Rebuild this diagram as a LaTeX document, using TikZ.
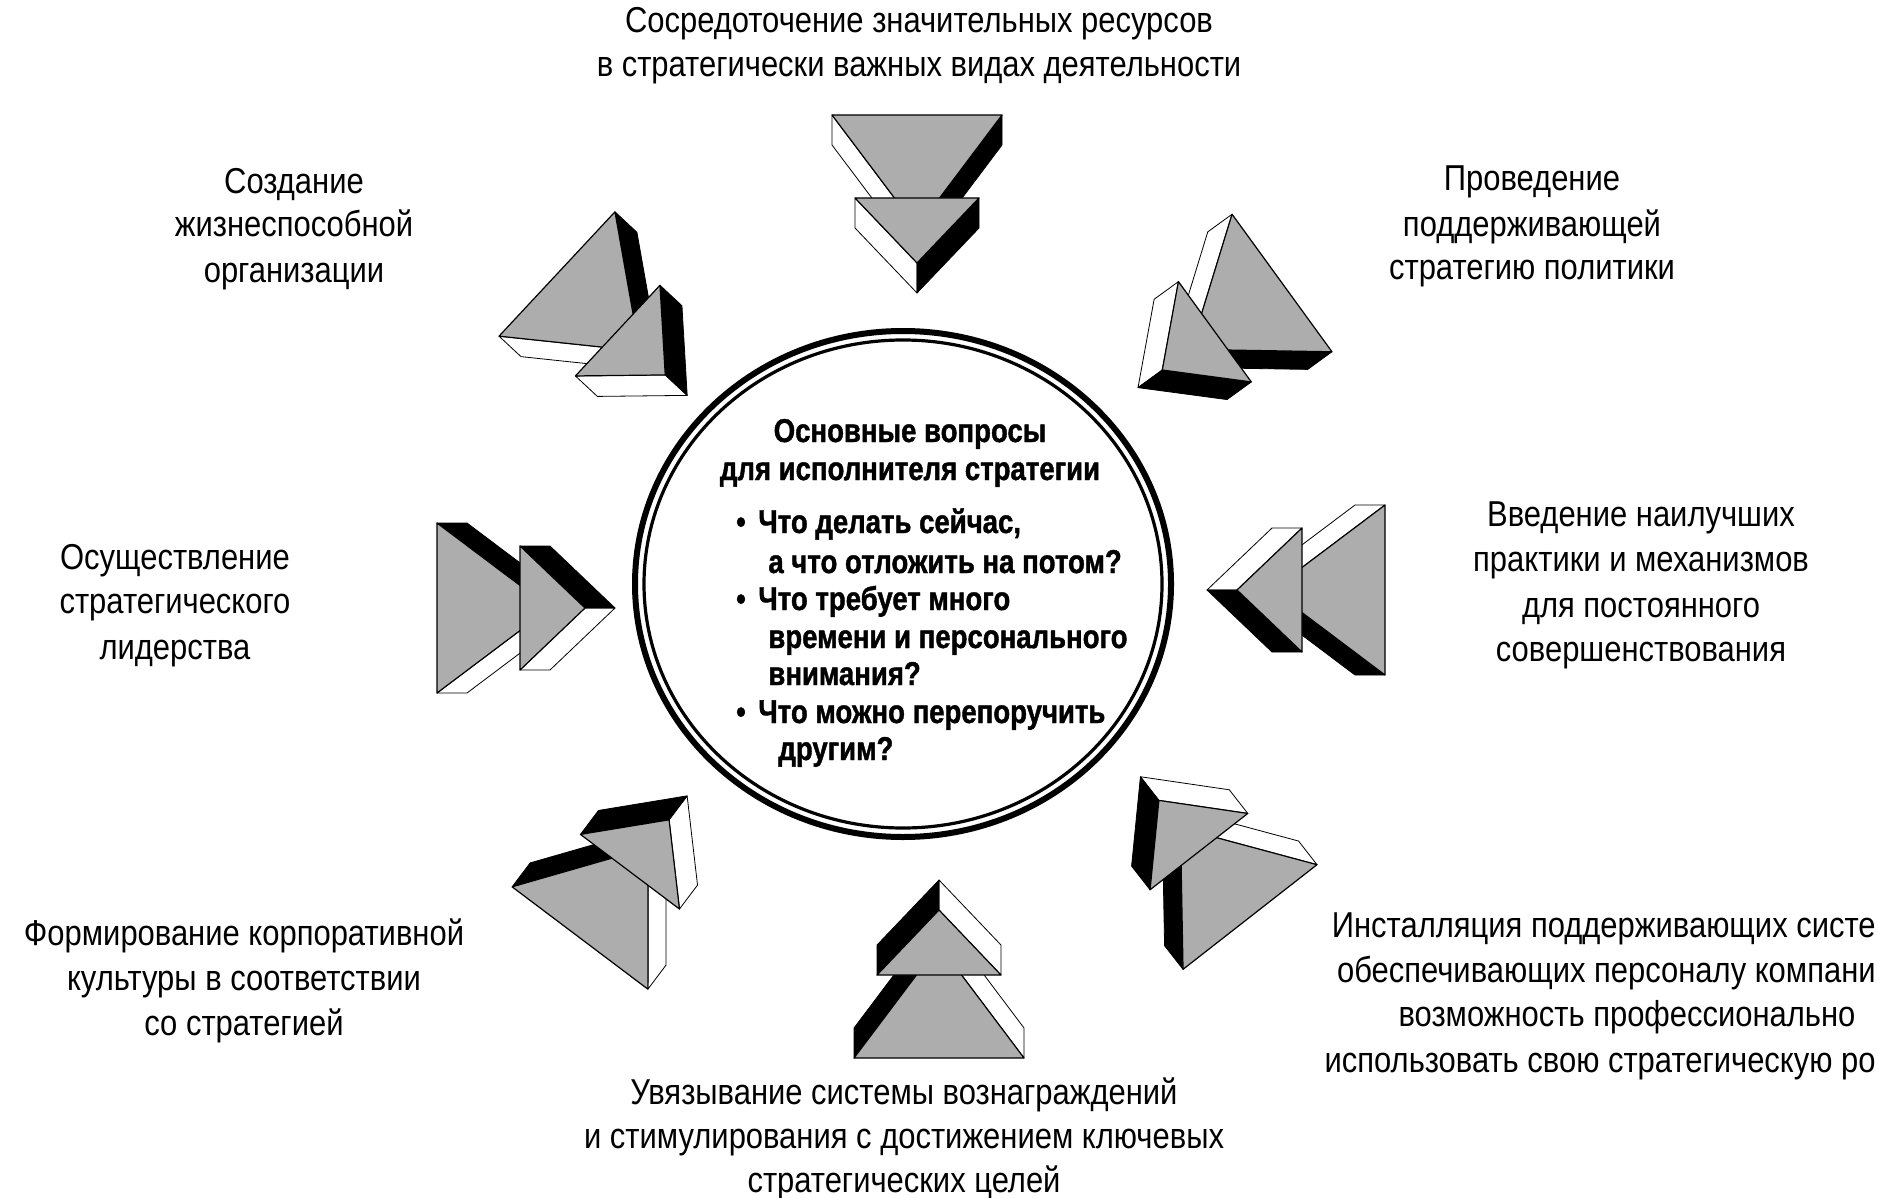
\documentclass[tikz,border=0pt]{standalone}
\usepackage{fontspec}
\setmainfont{Liberation Sans}[FakeStretch=0.86]
\newfontfamily\boldnarrow{Liberation Sans Bold}[FakeStretch=0.835,FakeBold=1.2]
\tikzset{
  front/.style={fill=black!32,draw=black,line width=0.6pt,line join=round},
  litface/.style={fill=white,draw=black,line width=0.4pt,line join=round},
  darkface/.style={fill=black,draw=black,line width=0.4pt,line join=round},
  lbl/.style={anchor=base,inner sep=0pt,font=\fontsize{18pt}{21pt}\selectfont},
  lble/.style={anchor=base east,inner sep=0pt,font=\fontsize{18pt}{21pt}\selectfont},
  ctr/.style={anchor=base,inner sep=0pt,font=\boldnarrow\fontsize{16.5pt}{19pt}\selectfont},
  ctrw/.style={anchor=base west,inner sep=0pt,font=\boldnarrow\fontsize{16.5pt}{19pt}\selectfont},
}
\newcommand\chevarrow[4]{%
  \begin{scope}[shift={(#2,#3)},rotate=#4]
    \coordinate (#1) at (0,0);
    \path[litface]  (-85,0) -- (0,113) -- (0,143) -- (-85,30) -- cycle;
    \path[darkface] (85,0) -- (0,113) -- (0,143) -- (85,30) -- cycle;
    \path[front]    (-85,0) -- (85,0) -- (0,113) -- cycle;
    \path[litface]  (-62,83) -- (0,148) -- (0,178) -- (-62,113) -- cycle;
    \path[darkface] (62,83) -- (0,148) -- (0,178) -- (62,113) -- cycle;
    \path[front]    (-62,83) -- (62,83) -- (0,148) -- cycle;
  \end{scope}}
\begin{document}
\begin{tikzpicture}[x=0.5pt,y=-0.5pt]
\useasboundingbox[fill=white] (0,0) rectangle (1878,1198);

% arrows
\chevarrow{arT}{917}{115}{0}
\chevarrow{arTR}{1282}{283}{-54}
\chevarrow{arR}{1385}{590}{-90}
\chevarrow{arBR}{1250}{917}{-142}
\chevarrow{arB}{939}{1058}{180}
\chevarrow{arBL}{580}{938}{143}
\chevarrow{arL}{437}{608}{90}
\chevarrow{arTL}{557}{274}{47}

% central double ellipse
\coordinate (cen) at (903,584);
\draw[line width=3pt] (cen) ellipse [x radius=268,y radius=253];
\draw[line width=1.6pt] (cen) ellipse [x radius=259,y radius=244];

% central text
\node[ctr] (c1) at (910,442) {Основные вопросы};
\node[ctr] (c2) at (910,480) {для исполнителя стратегии};
\node[ctr] (b1) at (741,533) {•};
\node[ctrw] (c3) at (758,533) {Что делать сейчас,};
\node[ctrw] (c4) at (768,573) {а что отложить на потом?};
\node[ctr] (b2) at (741,610) {•};
\node[ctrw] (c5) at (758,610) {Что требует много};
\node[ctrw] (c6) at (768,648) {времени и персонального};
\node[ctrw] (c7) at (768,685) {внимания?};
\node[ctr] (b3) at (741,723) {•};
\node[ctrw] (c8) at (758,723) {Что можно перепоручить};
\node[ctrw] (c9) at (778,760) {другим?};

% top
\node[lbl] (t1) at (919,33) {Сосредоточение значительных ресурсов};
\node[lbl] (t2) at (919,77) {в стратегически важных видах деятельности};
% top-left
\node[lbl] (tl1) at (294,194) {Создание};
\node[lbl] (tl2) at (294,237) {жизнеспособной};
\node[lbl] (tl3) at (294,282) {организации};
% top-right
\node[lbl] (tr1) at (1532,191) {Проведение};
\node[lbl] (tr2) at (1532,236) {поддерживающей};
\node[lbl] (tr3) at (1532,279) {стратегию политики};
% left
\node[lbl] (l1) at (175,569) {Осуществление};
\node[lbl] (l2) at (175,613) {стратегического};
\node[lbl] (l3) at (175,659) {лидерства};
% right
\node[lbl] (r1) at (1641,526) {Введение наилучших};
\node[lbl] (r2) at (1641,571) {практики и механизмов};
\node[lbl] (r3) at (1641,617) {для постоянного};
\node[lbl] (r4) at (1641,661) {совершенствования};
% bottom-left
\node[lbl] (bl1) at (244,945) {Формирование корпоративной};
\node[lbl] (bl2) at (244,990) {культуры в соответствии};
\node[lbl] (bl3) at (244,1035) {со стратегией};
% bottom-right (lines end at the page edge, as in the reference)
\node[lble] (br1) at (1876,937) {Инсталляция поддерживающих систе};
\node[lble] (br2) at (1876,982) {обеспечивающих персоналу компани};
\node[lbl] (br3) at (1627,1026) {возможность профессионально};
\node[lble] (br4) at (1876,1072) {использовать свою стратегическую ро};
% bottom
\node[lbl] (bo1) at (904,1104) {Увязывание системы вознаграждений};
\node[lbl] (bo2) at (904,1148) {и стимулирования с достижением ключевых};
\node[lbl] (bo3) at (904,1192) {стратегических целей};
\end{tikzpicture}
\end{document}
